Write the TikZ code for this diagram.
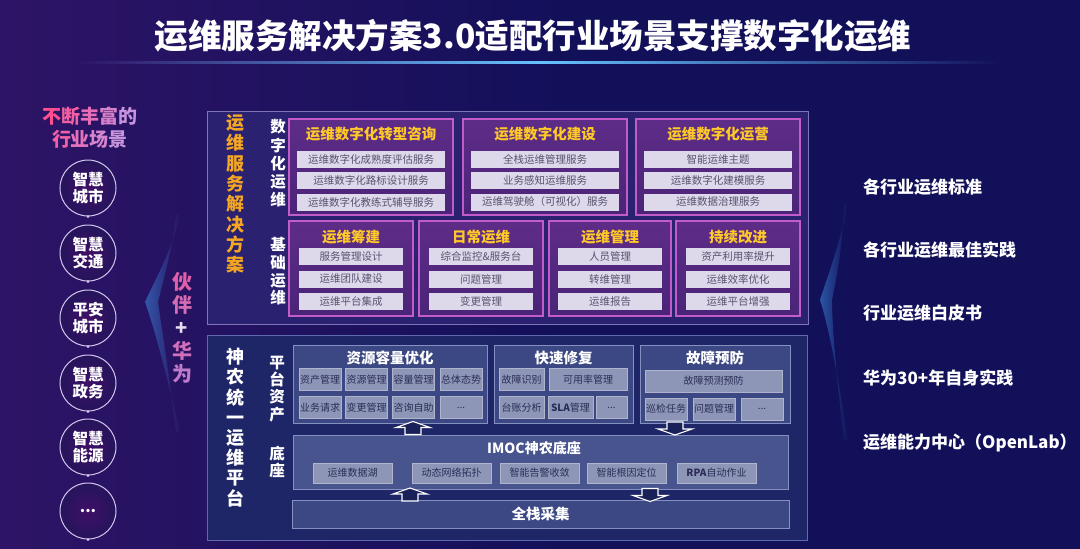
\documentclass[tikz,border=0pt]{standalone}
\usepackage{fontspec}
\setmainfont{Noto Sans CJK SC}
\definecolor{bgA}{HTML}{13105A}
\definecolor{bgB}{HTML}{2E1466}
\definecolor{upanel}{HTML}{2A2170}
\definecolor{upanelb}{HTML}{7E74B8}
\definecolor{lpanel}{HTML}{1F2668}
\definecolor{lpanelb}{HTML}{5F6AAE}
\definecolor{ubfill}{HTML}{4A2478}
\definecolor{ubtop}{HTML}{5E2C88}
\definecolor{ubdraw}{HTML}{C25CC8}
\definecolor{ytitle}{HTML}{FFC928}
\definecolor{uitemfill}{HTML}{DDD8EA}
\definecolor{uitemtext}{HTML}{58536E}
\definecolor{pbfill}{HTML}{3C4884}
\definecolor{pbdraw}{HTML}{8590C2}
\definecolor{imocfill}{HTML}{48548E}
\definecolor{litemfill}{HTML}{8E96B8}
\definecolor{litemtext}{HTML}{2A2D55}
\definecolor{orangev}{HTML}{F5A623}
\definecolor{circfill}{HTML}{24155C}
\definecolor{circdraw}{HTML}{D6C6EE}
\definecolor{glow}{HTML}{3D8FE0}
\tikzset{
  ubox/.style={draw=ubdraw, line width=1.1pt, top color=ubtop, bottom color=ubfill, inner sep=0pt},
  ytitle/.style={text=ytitle, font=\fontsize{14.5}{16}\selectfont\bfseries, inner sep=0pt},
  uitem/.style={fill=uitemfill, text=uitemtext, font=\fontsize{10.5}{12}\selectfont, minimum height=17pt, inner sep=0pt},
  pbox/.style={draw=pbdraw, line width=0.9pt, fill=pbfill, inner sep=0pt},
  wtitle/.style={text=white, font=\fontsize{14.5}{16}\selectfont\bfseries, inner sep=0pt},
  litem/.style={fill=litemfill, draw=litemfill!70!white, line width=0.4pt, text=litemtext, font=\fontsize{10}{12}\selectfont, minimum height=22pt, inner sep=0pt},
  iitem/.style={fill=litemfill, draw=litemfill!70!white, line width=0.4pt, text=litemtext, font=\fontsize{10}{12}\selectfont, minimum height=20pt, minimum width=79pt, inner sep=0pt},
  vtext/.style={align=center, inner sep=0pt, font=\bfseries},
  circ/.style={circle, draw=circdraw, line width=1pt, inner color=circfill!70!violet, outer color=circfill, minimum size=56pt, inner sep=0pt, text=white, align=center, font=\fontsize{15.5}{17}\selectfont\bfseries},
  cdot/.style={circle, fill=circdraw, minimum size=3pt, inner sep=0pt},
  rtext/.style={anchor=west, text=white, font=\fontsize{17}{19}\selectfont\bfseries, inner sep=0pt},
  barrowline/.style={draw=white, line width=1.1pt, fill=lpanel!85!black, line join=miter},
  uparr/.pic={\path[barrowline] (0,-6.5) -- (17,-0.5) -- (8,-0.5) -- (8,6.5) -- (-8,6.5) -- (-8,-0.5) -- (-17,-0.5) -- cycle;},
  downarr/.pic={\path[barrowline] (0,6.5) -- (17,0.5) -- (8,0.5) -- (8,-6.5) -- (-8,-6.5) -- (-8,0.5) -- (-17,0.5) -- cycle;}
}
\begin{document}
\begin{tikzpicture}[x=1pt,y=-1pt]
\useasboundingbox (0,0) rectangle (1080,549);
% background
\fill[bgA] (0,0) rectangle (1080,549);
\shade[left color=bgB, right color=bgA] (0,0) rectangle (560,549);
% title
\node[text=white, font=\fontsize{33.5}{38}\selectfont\bfseries, inner sep=0pt] (title) at (533,36) {运维服务解决方案3.0适配行业场景支撑数字化运维};
\shade[left color=bgB, right color=bgA, middle color=blue!40!cyan!60!white] (80,61) rectangle (1000,63.5);
% glows
\shade[left color=glow, right color=bgB, opacity=0.55] (180,215) .. controls (170,255) and (155,280) .. (145,302) .. controls (155,330) and (168,380) .. (180,432) -- (176,432) .. controls (170,380) and (162,330) .. (158,302) .. controls (166,270) and (172,250) .. (176,215) -- cycle;
\shade[left color=glow, right color=bgA, opacity=0.55] (848,205) .. controls (838,250) and (828,275) .. (820,300) .. controls (830,330) and (840,390) .. (848,440) -- (844,440) .. controls (838,390) and (832,330) .. (832,300) .. controls (838,270) and (842,250) .. (844,205) -- cycle;
% left heading
\node[font=\fontsize{19}{22}\selectfont\bfseries, inner sep=0pt] (lh1) at (90,116) {\textcolor[HTML]{FF4F8E}{不}\textcolor[HTML]{F45EA2}{断}\textcolor[HTML]{E86EB6}{丰}\textcolor[HTML]{D980CA}{富}\textcolor[HTML]{C894DE}{的}};
\node[font=\fontsize{19}{22}\selectfont\bfseries, inner sep=0pt] (lh2) at (90,139) {\textcolor[HTML]{F060A6}{行}\textcolor[HTML]{E272BC}{业}\textcolor[HTML]{D584CE}{场}\textcolor[HTML]{C896DE}{景}};
% circles
\foreach \i/\y/\t in {1/188/{智慧\\城市},2/253/{智慧\\交通},3/318/{平安\\城市},4/383/{智慧\\政务},5/447/{智慧\\能源},6/511/{...}}{
  \node[circ] (c\i) at (88,\y) {\t};
  \node[cdot] (d\i) at (c\i.south) {};
}
% partner
\node[vtext, font=\fontsize{20}{23}\selectfont\bfseries] (partner) at (182,328) {\textcolor[HTML]{E060A8}{伙}\\\textcolor[HTML]{D86CB4}{伴}\\\textcolor[HTML]{E8E0F0}{+}\\\textcolor[HTML]{D070BC}{华}\\\textcolor[HTML]{C07ACC}{为}};
% panels
\node[draw=upanelb, line width=0.8pt, fill=upanel, minimum width=601pt, minimum height=213pt, inner sep=0pt] (upper) at (507.5,217.5) {};
\node[draw=lpanelb, line width=0.8pt, fill=lpanel, minimum width=600pt, minimum height=205pt, inner sep=0pt] (lower) at (507,437.5) {};
% upper vertical labels
\node[vtext, text=orangev, font=\fontsize{18}{20.3}\selectfont\bfseries] (v1) at (235,194) {运\\维\\服\\务\\解\\决\\方\\案};
\node[vtext, text=white, font=\fontsize{15.5}{18.2}\selectfont\bfseries] (v2) at (278,163.5) {数\\字\\化\\运\\维};
\node[vtext, text=white, font=\fontsize{15.5}{17.7}\selectfont\bfseries] (v3) at (278,271.5) {基\\础\\运\\维};
% digital boxes
\foreach \n/\x/\t/\a/\b/\c in {
 u1/371/运维数字化转型咨询/运维数字化成熟度评估服务/运维数字化路标设计服务/运维数字化教练式辅导服务,
 u2/545/运维数字化建设/全栈运维管理服务/业务感知运维服务/运维驾驶舱（可视化）服务,
 u3/718/运维数字化运营/智能运维主题/运维数字化建模服务/运维数据治理服务}{
  \node[ubox, minimum width=164pt, minimum height=96pt] (\n) at (\x,167) {};
  \node[ytitle] (\n t) at (\x,134) {\t};
  \node[uitem, minimum width=148pt] (\n a) at (\x,159.5) {\a};
  \node[uitem, minimum width=148pt] (\n b) at (\x,180.5) {\b};
  \node[uitem, minimum width=148pt] (\n c) at (\x,202) {\c};
}
% basic boxes
\foreach \n/\x/\w/\t/\a/\b/\c in {
 l1/351/124/运维筹建/服务管理设计/运维团队建设/运维平台集成,
 l2/481/124/日常运维/综合监控\&服务台/问题管理/变更管理,
 l3/610/122/运维管理/人员管理/转维管理/运维报告,
 l4/738/124/持续改进/资产利用率提升/运维效率优化/运维平台增强}{
  \node[ubox, minimum width=\w pt, minimum height=95pt] (\n) at (\x,268.5) {};
  \node[ytitle] (\n t) at (\x,237) {\t};
  \node[uitem, minimum width=104pt] (\n a) at (\x,256.5) {\a};
  \node[uitem, minimum width=104pt] (\n b) at (\x,279) {\b};
  \node[uitem, minimum width=104pt] (\n c) at (\x,301.5) {\c};
}
% lower vertical labels
\node[vtext, text=white, font=\fontsize{18}{20.2}\selectfont\bfseries] (v4) at (235,427.5) {神\\农\\统\\一\\运\\维\\平\\台};
\node[vtext, text=white, font=\fontsize{15.5}{17.3}\selectfont\bfseries] (v5) at (277,389) {平\\台\\资\\产};
\node[vtext, text=white, font=\fontsize{15.5}{17}\selectfont\bfseries] (v6) at (277,461.5) {底\\座};
% platform asset boxes
\node[pbox, minimum width=194pt, minimum height=78pt] (p1) at (390,384) {};
\node[wtitle] (p1t) at (390,358) {资源容量优化};
\node[litem, minimum width=42pt] (p1a) at (320,379.5) {资产管理};
\node[litem, minimum width=42pt] (p1b) at (366.5,379.5) {资源管理};
\node[litem, minimum width=42pt] (p1c) at (413.5,379.5) {容量管理};
\node[litem, minimum width=42pt] (p1d) at (461,379.5) {总体态势};
\node[litem, minimum width=42pt] (p1e) at (320,407.5) {业务请求};
\node[litem, minimum width=42pt] (p1f) at (366.5,407.5) {变更管理};
\node[litem, minimum width=42pt] (p1g) at (413.5,407.5) {咨询自助};
\node[litem, minimum width=42pt] (p1h) at (461,407.5) {...};
\node[pbox, minimum width=139pt, minimum height=78pt] (p2) at (563.5,384) {};
\node[wtitle] (p2t) at (563.5,358) {快速修复};
\node[litem, minimum width=45pt] (p2a) at (521.5,379.5) {故障识别};
\node[litem, minimum width=78pt] (p2b) at (588,379.5) {可用率管理};
\node[litem, minimum width=45pt] (p2c) at (521.5,407.5) {台账分析};
\node[litem, minimum width=45pt] (p2d) at (570.5,407.5) {\textbf{SLA}管理};
\node[litem, minimum width=31pt] (p2e) at (611.5,407.5) {...};
\node[pbox, minimum width=150pt, minimum height=78pt] (p3) at (715,384) {};
\node[wtitle] (p3t) at (715,358) {故障预防};
\node[litem, minimum width=137pt] (p3a) at (713.5,381) {故障预测预防};
\node[litem, minimum width=42pt] (p3b) at (666,409) {巡检任务};
\node[litem, minimum width=42pt] (p3c) at (714,409) {问题管理};
\node[litem, minimum width=42pt] (p3d) at (762,409) {...};
% IMOC
\node[pbox, fill=imocfill, minimum width=495pt, minimum height=54pt] (imoc) at (540.5,462) {};
\node[wtitle, font=\fontsize{14}{16}\selectfont\bfseries] (imoct) at (534,448) {IMOC神农底座};
\node[iitem] (i1) at (352.5,473) {运维数据湖};
\node[iitem] (i2) at (451.5,473) {动态网络拓扑};
\node[iitem] (i3) at (539.5,473) {智能告警收敛};
\node[iitem] (i4) at (626.5,473) {智能根因定位};
\node[iitem] (i5) at (716.5,473) {\textbf{RPA}自动作业};
% full stack
\node[pbox, minimum width=497pt, minimum height=28pt] (fs) at (540.5,514) {};
\node[wtitle] (fst) at (540.5,514) {全栈采集};
% block arrows between layers
\pic (a1) at (413,428) {uparr};
\pic (a2) at (675,428.5) {downarr};
\pic (a3) at (410,494.5) {uparr};
\pic (a4) at (650,495) {downarr};
% right texts
\node[rtext] (r1) at (863,187) {各行业运维标准};
\node[rtext] (r2) at (863,250) {各行业运维最佳实践};
\node[rtext] (r3) at (863,313) {行业运维白皮书};
\node[rtext] (r4) at (863,378) {华为30+年自身实践};
\node[rtext] (r5) at (863,443) {运维能力中心（OpenLab）};
\end{tikzpicture}
\end{document}
